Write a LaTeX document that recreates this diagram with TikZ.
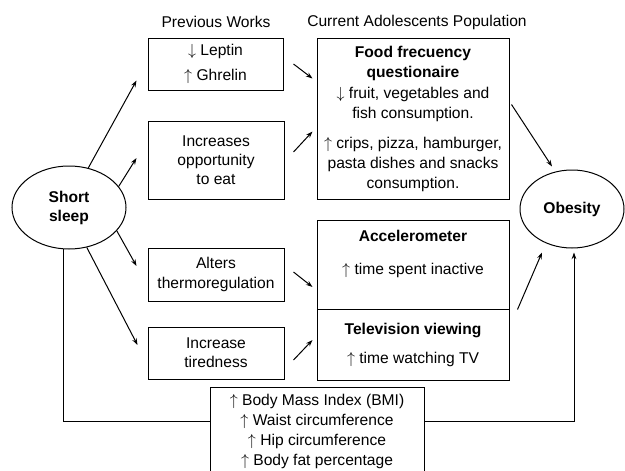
\documentclass[tikz,border=0pt]{standalone}
\usepackage{fontspec}
\setmainfont{Liberation Sans}
\usetikzlibrary{arrows.meta,shapes.geometric}
\tikzset{every picture/.style={line width=0.75pt}}
\tikzset{
  box/.style={draw, align=center, inner sep=2pt},
  txt/.style={align=center},
  oval/.style={draw, ellipse, inner sep=0pt, align=center, font=\fontsize{11.7}{14.25}\selectfont\bfseries},
  arr/.style={-{Stealth[length=5pt,width=3.5pt]}}
}

\begin{document}
\begin{tikzpicture}[x=0.75pt,y=-0.75pt,every node/.style={font=\fontsize{11.7}{15}\selectfont}]
\useasboundingbox (0,0) rectangle (625,471);
\clip (0,0) rectangle (625,471);

%Shape: Ellipse
\draw (69,207.5) node [oval, minimum width=85.5pt, minimum height=62.25pt] (sleep) {Short\\sleep};
%Shape: Ellipse
\draw (572,209) node [oval, minimum width=78pt, minimum height=58.5pt] (obes) {Obesity};

%Shape: Rectangle
\draw (215.5,64) node [box, minimum width=101.25pt, minimum height=39pt] (lep) {$\downarrow$ Leptin\\[3.75pt]$\uparrow$ Ghrelin};
%Shape: Rectangle
\draw (216,160) node [box, minimum width=102pt, minimum height=58.5pt] (opp) {Increases\\[-0.75pt]opportunity\\[-0.75pt]to eat};
%Shape: Rectangle
\draw (216,274.5) node [box, minimum width=102pt, minimum height=39.75pt] (thermo) {Alters\\thermoregulation};
%Shape: Rectangle
\draw (216,353) node [box, minimum width=102pt, minimum height=39pt] (tired) {Increase\\[-0.75pt]tiredness};

%Shape: Rectangle
\draw (413,118.5) node [box, minimum width=144pt, minimum height=120.75pt] (food) {\textbf{Food frecuency}\\\textbf{questionaire}\\[0.75pt]$\downarrow$ fruit, vegetables and\\fish consumption.\\[7.5pt]$\uparrow$ crips, pizza, hamburger,\\pasta dishes and snacks\\consumption.};
%Shape: Rectangle
\draw (413,264.5) node [box, minimum width=144pt, minimum height=66.75pt] (acc) {};
% Text Node
\draw (413,253.5) node [txt] (acctxt) {\textbf{Accelerometer}\\[9.75pt]$\uparrow$ time spent inactive};
%Shape: Rectangle
\draw (413,344.5) node [box, minimum width=144pt, minimum height=53.25pt] (tv) {\textbf{Television viewing}\\[6.75pt]$\uparrow$ time watching TV};
%Shape: Rectangle
\draw (317,431) node [box, minimum width=160.5pt, minimum height=66pt] (bmi) {$\uparrow$ Body Mass Index (BMI)\\$\uparrow$ Waist circumference\\$\uparrow$ Hip circumference\\$\uparrow$ Body fat percentage};

% Text Node
\draw (216,22) node (prev) {Previous Works};
% Text Node
\draw (417,22) node (curr) {Current Adolescents Population};

%Straight Lines
\draw [arr] (sleep.64) -- ([shift={(-11,-10)}]lep.south west);
\draw [arr] (sleep.23) -- ([shift={(-11,-2)}]opp.west);
\draw [arr] (sleep.-26) -- ([shift={(-11,-8.5)}]thermo.west);
\draw [arr] (sleep.-66) -- ([shift={(-10,-8)}]tired.west);

%Straight Lines
\draw [arr] ([shift={(10,0)}]lep.east) -- ([shift={(-4,41)}]food.north west);
\draw [arr] ([shift={(9,-8)}]opp.east) -- ([shift={(-4,94)}]food.north west);
\draw [arr] ([shift={(9,-2.5)}]thermo.east) -- ([shift={(-4,22.5)}]acc.west);
\draw [arr] ([shift={(9,7)}]tired.east) -- ([shift={(-4,-4.5)}]tv.west);

%Straight Lines
\draw [arr] ([shift={(2,67)}]food.north east) -- ([shift={(-20,-3)}]obes.north);
\draw [arr] ([shift={(8,0)}]acc.south east) -- ([shift={(-30,4)}]obes.south);

%Straight Lines
\draw (sleep.263) |- ([shift={(0,35)}]bmi.north west);
\draw [arr] ([shift={(0,35)}]bmi.north east) -| ([shift={(2,4)}]obes.south);

\end{tikzpicture}
\end{document}
